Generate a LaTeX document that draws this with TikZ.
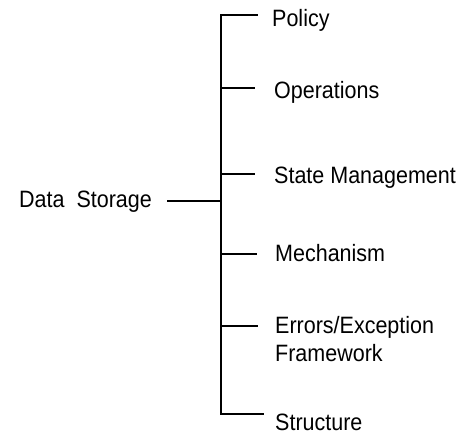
\documentclass[tikz,border=0pt]{standalone}
\usepackage{fontspec}
\setmainfont{Liberation Sans}
\begin{document}
\begin{tikzpicture}[x=1pt,y=-1pt,
  lbl/.style={anchor=base west,inner sep=0pt,align=left,
    font=\fontsize{21.5}{28}\selectfont},
  branch/.style={line width=1.3pt},
  heavy/.style={line width=2.6pt}]
\useasboundingbox (0,0) rectangle (474,434);

% root label and the trunk it feeds
\node[lbl] (root) at (19,207) {\scalebox{1}[1.1]{Data\ \ Storage}};
\coordinate (tT) at (221,15);
\coordinate (tB) at (221,414);
\coordinate (tR) at (221,201);
\draw[branch] ([xshift=15pt]root.east |- tR) -- (tR);
\draw[branch,line cap=rect] (tT) -- (tB);

% child labels (a two-line label sits on its last baseline)
\node[lbl] (pol) at (272,26)  {\scalebox{1}[1.1]{Policy}};
\node[lbl] (ops) at (274,98)  {\scalebox{1}[1.1]{Operations}};
\node[lbl] (stm) at (274,183) {\scalebox{1}[1.1]{State Management}};
\node[lbl] (mec) at (275,261) {\scalebox{1}[1.1]{Mechanism}};
\node[lbl] (err) at (275,361) {\scalebox{1}[1.1]{Errors/Exception}\\\scalebox{1}[1.1]{Framework}};
\node[lbl] (str) at (275,430) {\scalebox{1}[1.1]{Structure}};

% trunk junctions and branch ends
\coordinate (jP) at (221,15);  \coordinate (eP) at (258,15);
\coordinate (jO) at (221,88);  \coordinate (eO) at (255,88);
\coordinate (jS) at (221,174); \coordinate (eS) at (255,174);
\coordinate (jM) at (221,254); \coordinate (eM) at (257,254);
\coordinate (jE) at (221,326); \coordinate (eE) at (258,326);
\coordinate (jX) at (221,414); \coordinate (eX) at (264,414);

\draw[branch] (jP) -- (eP);
\draw[heavy]  (jO) -- (eO);
\draw[branch] (jS) -- (eS);
\draw[branch] (jM) -- (eM);
\draw[branch] (jE) -- (eE);
\draw[branch] (jX) -- (eX);
\end{tikzpicture}
\end{document}
